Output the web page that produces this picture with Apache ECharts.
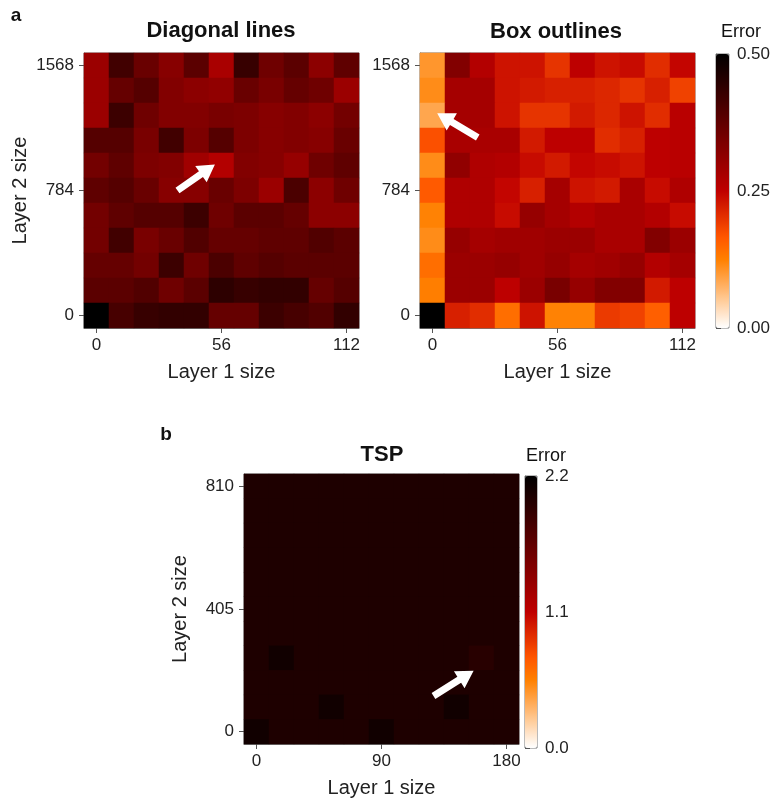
<!DOCTYPE html>
<html><head><meta charset="utf-8">
<script src="https://cdn.jsdelivr.net/npm/echarts@6/dist/echarts.min.js"></script>
<style>html,body{margin:0;padding:0;background:#fff}#c{width:773px;height:799px}</style>
</head><body><div id="c"></div>
<script>
// ---- categories / tick labels ----
const xCatsA = [0, 11.2, 22.4, 33.6, 44.8, 56, 67.2, 78.4, 89.6, 100.8, 112];
const yCatsA = [0, 156.8, 313.6, 470.4, 627.2, 784, 940.8, 1097.6, 1254.4, 1411.2, 1568];
const xCatsB = [0, 18, 36, 54, 72, 90, 108, 126, 144, 162, 180];
const yCatsB = [0, 81, 162, 243, 324, 405, 486, 567, 648, 729, 810];
const cbTicksA = [0, 0.25, 0.5];
const cbTicksB = [0, 1.1, 2.2];

// ---- values: rows listed from top (largest layer 2 size) to bottom ----
const diagonalLines = [
  [0.297, 0.415, 0.363, 0.324, 0.382, 0.278, 0.428, 0.356, 0.382, 0.317, 0.376],
  [0.297, 0.369, 0.389, 0.330, 0.317, 0.310, 0.363, 0.343, 0.369, 0.356, 0.297],
  [0.297, 0.422, 0.356, 0.330, 0.330, 0.343, 0.337, 0.324, 0.330, 0.317, 0.350],
  [0.389, 0.389, 0.343, 0.415, 0.337, 0.389, 0.337, 0.324, 0.330, 0.324, 0.363],
  [0.350, 0.376, 0.337, 0.330, 0.291, 0.265, 0.330, 0.324, 0.304, 0.356, 0.376],
  [0.376, 0.389, 0.363, 0.324, 0.324, 0.363, 0.337, 0.297, 0.402, 0.317, 0.356],
  [0.350, 0.376, 0.389, 0.389, 0.422, 0.356, 0.382, 0.382, 0.369, 0.317, 0.317],
  [0.350, 0.415, 0.343, 0.363, 0.395, 0.369, 0.369, 0.376, 0.376, 0.395, 0.382],
  [0.369, 0.369, 0.350, 0.422, 0.356, 0.402, 0.376, 0.389, 0.382, 0.382, 0.382],
  [0.382, 0.382, 0.395, 0.356, 0.382, 0.441, 0.428, 0.435, 0.435, 0.369, 0.389],
  [0.500, 0.408, 0.428, 0.435, 0.435, 0.369, 0.369, 0.422, 0.408, 0.395, 0.435]
];
const boxOutlines = [
  [0.103, 0.330, 0.265, 0.232, 0.232, 0.199, 0.252, 0.232, 0.239, 0.206, 0.245],
  [0.113, 0.284, 0.284, 0.232, 0.225, 0.219, 0.219, 0.212, 0.199, 0.219, 0.186],
  [0.087, 0.284, 0.284, 0.232, 0.199, 0.199, 0.225, 0.212, 0.232, 0.206, 0.258],
  [0.172, 0.278, 0.278, 0.278, 0.225, 0.252, 0.252, 0.206, 0.219, 0.252, 0.258],
  [0.113, 0.310, 0.271, 0.265, 0.239, 0.225, 0.245, 0.239, 0.232, 0.252, 0.258],
  [0.162, 0.271, 0.271, 0.245, 0.219, 0.284, 0.232, 0.225, 0.278, 0.239, 0.271],
  [0.123, 0.271, 0.271, 0.239, 0.304, 0.284, 0.265, 0.278, 0.278, 0.265, 0.239],
  [0.113, 0.304, 0.284, 0.291, 0.291, 0.297, 0.297, 0.278, 0.278, 0.330, 0.297],
  [0.142, 0.297, 0.297, 0.304, 0.291, 0.304, 0.284, 0.291, 0.304, 0.265, 0.284],
  [0.127, 0.297, 0.297, 0.252, 0.297, 0.343, 0.304, 0.330, 0.330, 0.225, 0.252],
  [0.500, 0.219, 0.206, 0.142, 0.232, 0.123, 0.123, 0.193, 0.186, 0.157, 0.252]
];
const tsp = [
  [2.03, 2.03, 2.03, 2.03, 2.03, 2.03, 2.03, 2.03, 2.03, 2.03, 2.03],
  [2.03, 2.03, 2.03, 2.03, 2.03, 2.03, 2.03, 2.03, 2.03, 2.03, 2.03],
  [2.03, 2.03, 2.03, 2.03, 2.03, 2.03, 2.03, 2.03, 2.03, 2.03, 2.03],
  [2.03, 2.03, 2.03, 2.03, 2.03, 2.03, 2.03, 2.03, 2.03, 2.03, 2.03],
  [2.03, 2.03, 2.03, 2.03, 2.03, 2.03, 2.03, 2.03, 2.03, 2.03, 2.03],
  [2.03, 2.03, 2.03, 2.03, 2.03, 2.03, 2.03, 2.03, 2.03, 2.03, 2.03],
  [2.03, 2.03, 2.03, 2.03, 2.03, 2.03, 2.03, 2.03, 2.03, 2.03, 2.03],
  [2.03, 2.10, 2.03, 2.03, 2.03, 2.03, 2.03, 2.03, 2.03, 1.97, 2.03],
  [2.03, 2.03, 2.03, 2.03, 2.03, 2.03, 2.03, 2.03, 2.03, 2.03, 2.03],
  [2.03, 2.03, 2.03, 2.10, 2.03, 2.03, 2.03, 2.03, 2.10, 2.03, 2.03],
  [2.10, 2.03, 2.03, 2.03, 2.03, 2.10, 2.03, 2.03, 2.03, 2.03, 2.03]
];

// gist_heat reversed, sampled at 1/12 steps (piecewise-linear exact)
const heatColors = ['#ffffff','#ffd4aa','#ffaa55','#ff8000','#ff5500','#df2b00','#bf0000',
  '#9f0000','#800000','#600000','#400000','#200000','#000000'];

function toCells(rows) {
  const out = [];
  const n = rows.length;
  rows.forEach((row, r) => row.forEach((v, c) => out.push([c, n - 1 - r, v])));
  return out;
}

const FONT = 'Liberation Sans, Arial, sans-serif';
const G = [
  {left: 84, top: 53, width: 275, height: 275},
  {left: 420, top: 53, width: 275, height: 275},
  {left: 716, top: 54, width: 13, height: 274},
  {left: 244, top: 474, width: 275, height: 275},
  {left: 525, top: 476, width: 12, height: 272}
];
const gridBg = ['#500000', '#c00000', 'transparent', '#1e0000', 'transparent'];

function catX(idx, cats, show) {
  return {
    type: 'category', gridIndex: idx, data: cats.map(String),
    axisLine: {show: true, lineStyle: {color: '#777', width: 1}},
    axisTick: {show: show, alignWithLabel: true, interval: 4, length: 5, lineStyle: {color: '#555'}},
    axisLabel: {show: show, interval: 4, color: '#222', fontSize: 17, fontFamily: FONT, margin: 9,
      formatter: v => String(Math.round(Number(v)))},
    splitLine: {show: false}
  };
}
function catY(idx, cats) {
  return {
    type: 'category', gridIndex: idx, data: cats.map(String),
    axisLine: {show: true, lineStyle: {color: '#777', width: 1}},
    axisTick: {show: true, alignWithLabel: true, interval: 4, length: 5, lineStyle: {color: '#555'}},
    axisLabel: {interval: 4, color: '#222', fontSize: 17, fontFamily: FONT, margin: 10,
      formatter: v => String(Math.round(Number(v)))},
    splitLine: {show: false}
  };
}
const nameStyle = {color: '#222', fontSize: 20, fontFamily: FONT};

const xAxes = [
  Object.assign(catX(0, xCatsA, true), {name: 'Layer 1 size', nameLocation: 'middle', nameGap: 34, nameTextStyle: nameStyle}),
  Object.assign(catX(1, xCatsA, true), {name: 'Layer 1 size', nameLocation: 'middle', nameGap: 34, nameTextStyle: nameStyle}),
  {type: 'value', gridIndex: 2, show: false, min: 0, max: 1},
  Object.assign(catX(3, xCatsB, true), {name: 'Layer 1 size', nameLocation: 'middle', nameGap: 34, nameTextStyle: nameStyle}),
  {type: 'value', gridIndex: 4, show: false, min: 0, max: 1}
];
function cbAxis(idx, ticks, digits) {
  return {
    type: 'value', gridIndex: idx, position: 'right', min: ticks[0], max: ticks[ticks.length - 1],
    interval: ticks[1] - ticks[0],
    axisLine: {show: true, lineStyle: {color: '#777'}},
    axisTick: {show: true, length: 5, lineStyle: {color: '#555'}},
    axisLabel: {color: '#222', fontSize: 17, fontFamily: FONT, margin: 8, formatter: v => v.toFixed(digits)},
    splitLine: {show: false}
  };
}
const yAxes = [
  Object.assign(catY(0, yCatsA), {name: 'Layer 2 size', nameLocation: 'middle', nameGap: 54, nameTextStyle: nameStyle}),
  catY(1, yCatsA),
  cbAxis(2, cbTicksA, 2),
  Object.assign(catY(3, yCatsB), {name: 'Layer 2 size', nameLocation: 'middle', nameGap: 54, nameTextStyle: nameStyle}),
  cbAxis(4, cbTicksB, 1)
];

function arrow(g, tfx, tfy, pfx, pfy) {
  const tx = g.left + tfx * g.width, ty = g.top + tfy * g.height;
  const px = g.left + pfx * g.width, py = g.top + pfy * g.height;
  const dx = px - tx, dy = py - ty, len = Math.hypot(dx, dy);
  const ux = dx / len, uy = dy / len, nx = -uy, ny = ux;
  const w = 3.5, H = 10, L = 17;
  const bx = px - ux * L, by = py - uy * L;
  const pts = [
    [tx + nx * w, ty + ny * w], [bx + nx * w, by + ny * w], [bx + nx * H, by + ny * H],
    [px, py], [bx - nx * H, by - ny * H], [bx - nx * w, by - ny * w], [tx - nx * w, ty - ny * w]
  ];
  return {type: 'polygon', shape: {points: pts}, style: {fill: '#fff'}, z: 100};
}
function txt(x, y, s, size, bold, align) {
  return {type: 'text', x: x, y: y, z: 100, style: {text: s, fontSize: size, fontWeight: bold ? 'bold' : 'normal',
    fontFamily: FONT, fill: '#111', align: align || 'center', verticalAlign: 'middle'}};
}

const chart = echarts.init(document.getElementById('c'), null, {renderer: 'canvas'});
chart.setOption({
  animation: false,
  backgroundColor: '#fff',
  grid: G.map((g, i) => Object.assign({show: true, borderColor: '#777', borderWidth: 1, backgroundColor: gridBg[i], containLabel: false}, g)),
  xAxis: xAxes,
  yAxis: yAxes,
  visualMap: [
    {type: 'continuous', min: 0, max: 0.5, seriesIndex: [0, 1], inRange: {color: heatColors},
      left: G[2].left, top: G[2].top, itemWidth: G[2].width, itemHeight: G[2].height, padding: 0,
      calculable: false, showLabel: false, text: null, orient: 'vertical'},
    {type: 'continuous', min: 0, max: 2.2, seriesIndex: [2], inRange: {color: heatColors},
      left: G[4].left, top: G[4].top, itemWidth: G[4].width, itemHeight: G[4].height, padding: 0,
      calculable: false, showLabel: false, text: null, orient: 'vertical'}
  ],
  series: [
    {type: 'heatmap', xAxisIndex: 0, yAxisIndex: 0, data: toCells(diagonalLines), emphasis: {disabled: true}, progressive: 0},
    {type: 'heatmap', xAxisIndex: 1, yAxisIndex: 1, data: toCells(boxOutlines), emphasis: {disabled: true}, progressive: 0},
    {type: 'heatmap', xAxisIndex: 3, yAxisIndex: 3, data: toCells(tsp), emphasis: {disabled: true}, progressive: 0}
  ],
  graphic: [
    txt(221, 31, 'Diagonal lines', 22, true),
    txt(556, 32, 'Box outlines', 22, true),
    txt(382, 455, 'TSP', 22, true),
    txt(16, 16, 'a', 19, true),
    txt(166, 435, 'b', 19, true),
    txt(741, 32, 'Error', 18, false),
    txt(546, 456, 'Error', 18, false),
    arrow(G[0], 0.34, 0.50, 0.476, 0.405),
    arrow(G[1], 0.21, 0.307, 0.0625, 0.219),
    arrow(G[3], 0.689, 0.807, 0.835, 0.715)
  ]
});
</script></body></html>
